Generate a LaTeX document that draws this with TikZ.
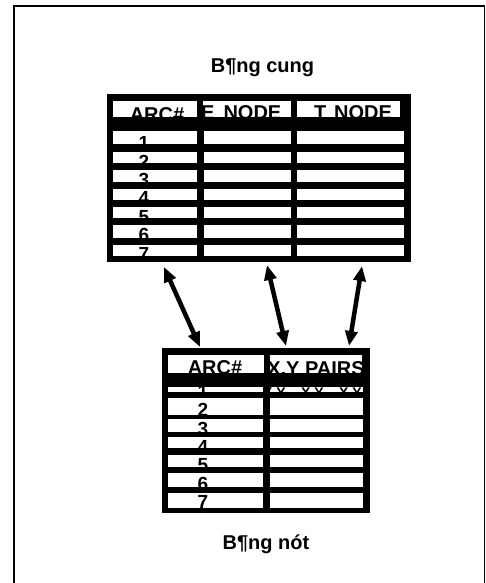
\documentclass[tikz,border=0pt]{standalone}
\usepackage{fontspec}
\setmainfont{Liberation Sans}
\usetikzlibrary{arrows.meta}

\tikzset{
  tabtext/.style={font=\bfseries\fontsize{20}{24}\selectfont, inner sep=0pt, anchor=base},
  numtext/.style={font=\bfseries\fontsize{19}{22}\selectfont, inner sep=0pt, anchor=base},
  pairtext/.style={font=\bfseries\fontsize{14}{16}\selectfont, inner sep=0pt, anchor=base west},
  linkarrow/.style={line width=4.5pt, {Triangle[length=15pt,width=12pt]}-{Triangle[length=15pt,width=12pt]}},
}

\begin{document}
\begin{tikzpicture}[x=1pt, y=-1pt]
  \useasboundingbox (0,0) rectangle (486,583);
  % frame
  \draw[line width=1.8pt] (14,583) -- (14,6) -- (484.5,6) -- (484.5,583);

  % arc table
  \node[tabtext] (cungtitle) at (262.5,72.3) {B¶ng cung};
  \fill[black] (107,94) rectangle (411,262);
  \fill[white] (113,101) rectangle (197,117);
  \fill[white] (203,101) rectangle (291,117);
  \fill[white] (297,101) rectangle (400,117);
  \foreach \top/\bot in {131/144, 152/163, 170/182, 189/200, 207/218, 225/238, 245/256} {
    \fill[white] (113,\top) rectangle (197,\bot);
    \fill[white] (204,\top) rectangle (291,\bot);
    \fill[white] (297,\top) rectangle (404,\bot);
  }
  \node[tabtext] (arcA) at (157,121.3) {ARC\#};
  \node[tabtext, anchor=base west] (fnode) at (201,119.3) {E\hspace{0.45em}NODE};
  \node[tabtext] (tnode) at (353,119.3) {T\hspace{0.4em}NODE};
  \foreach \i in {1,...,7}
    \node[numtext] (arcA-\i) at (144,{136+18.45*(\i-1)+13.6}) {\i};

  % node table
  \fill[black] (162,348) rectangle (370,513);
  \fill[white] (168,355) rectangle (264,373);
  \fill[white] (270,355) rectangle (362,373);
  \foreach \top/\bot in {387/392, 398/415, 419/432, 437/448, 455/467, 473/487, 493/508} {
    \fill[white] (168,\top) rectangle (263,\bot);
    \fill[white] (270,\top) rectangle (363,\bot);
  }
  \node[tabtext] (arcB) at (215,374.4) {ARC\#};
  \node[tabtext] (pairs) at (316,375.5) {X,Y PAIRS};
  \begin{scope}
    \clip (168,387) rectangle (263,392) (270,387) rectangle (363,392);
    \node[numtext] (arcB-1) at (203,398.6) {1};
    \node[pairtext] (xy) at (263,397) {X,Y\hspace{1.1em}X,Y\hspace{1.1em}X,Y};
  \end{scope}
  \foreach \i in {2,...,7}
    \node[numtext] (arcB-\i) at (203,{385+18.3*(\i-1)+13.6}) {\i};
  \node[tabtext] (nuttitle) at (266,549) {B¶ng nót};

  % links
  \coordinate (linkA) at (164,267);
  \coordinate (linkB) at (200,347);
  \coordinate (fromA) at (267,265);
  \coordinate (fromB) at (286,346);
  \coordinate (toA) at (362,266);
  \coordinate (toB) at (349,346);
  \draw[linkarrow] (linkA) -- (linkB);
  \draw[linkarrow] (fromA) -- (fromB);
  \draw[linkarrow] (toA) -- (toB);
\end{tikzpicture}
\end{document}
